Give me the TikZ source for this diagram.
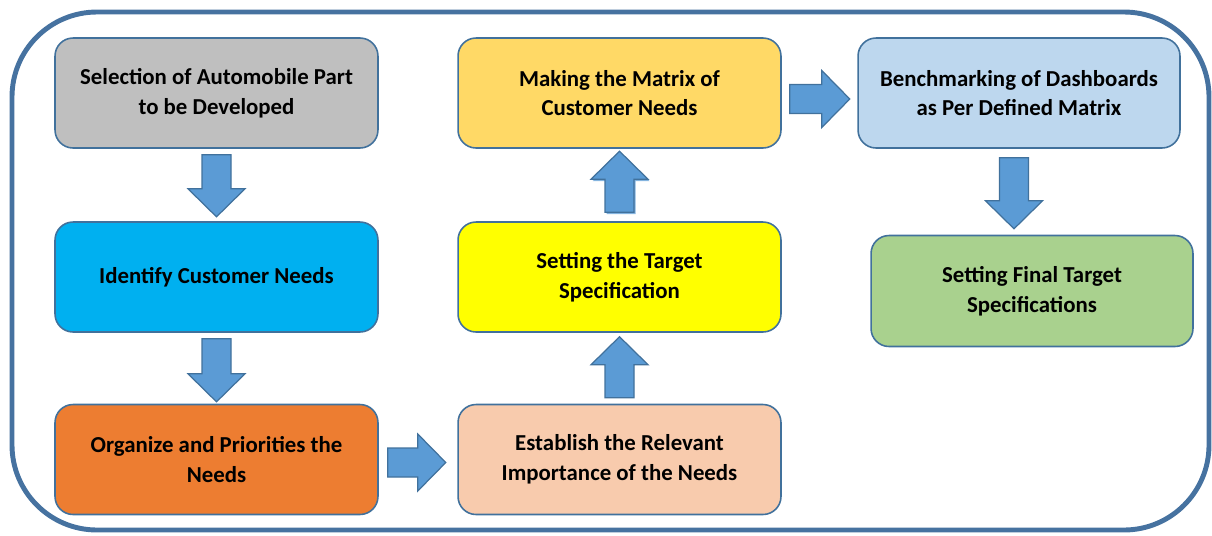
\documentclass[tikz,border=0pt]{standalone}
\usepackage{fontspec}
\setmainfont{Carlito}
\usetikzlibrary{positioning, calc}
\definecolor{flowedge}{HTML}{41719C}
\definecolor{flowframe}{HTML}{4672A0}
\definecolor{flowarrow}{HTML}{5B9BD5}
\definecolor{flowgray}{HTML}{BFBFBF}
\definecolor{flowcyan}{HTML}{00B0F0}
\definecolor{floworange}{HTML}{ED7D31}
\definecolor{flowpeach}{HTML}{F8CBAD}
\definecolor{flowyellow}{HTML}{FFFF00}
\definecolor{flowgold}{HTML}{FFD966}
\definecolor{flowsky}{HTML}{BDD7EE}
\definecolor{flowgreen}{HTML}{A9D18E}

% block arrow: start point, direction, length (in px units)
\newcommand{\blockarrow}[3]{%
  \begin{scope}[shift={#1}, rotate=#2]
    \draw[fatarrow] (0,-14.5) -- ({#3-28},-14.5) -- ({#3-28},-28.5) -- (#3,0)
      -- ({#3-28},28.5) -- ({#3-28},14.5) -- (0,14.5) -- cycle;
  \end{scope}}

\begin{document}
\begin{tikzpicture}[
  x=0.02cm, y=-0.02cm,
  stage/.style={draw=flowedge, line width=0.9pt, rounded corners=0.36cm, minimum width=6.46cm, minimum height=2.2cm, align=center, font=\fontsize{13}{17}\selectfont\bfseries, inner sep=1mm},
  fatarrow/.style={draw=flowedge, fill=flowarrow, line width=0.7pt, line join=miter},
  frame/.style={draw=flowframe, line width=2.8pt, rounded corners=1.7cm}
]
\useasboundingbox (0,0) rectangle (1212,535);
\draw[frame] (12,12) rectangle (1209,530);

\node[stage, fill=flowgray] (sel) at (216.5,93) {Selection of Automobile Part\\to be Developed};
\node[stage, fill=flowcyan] (icn) at (216.5,277) {Identify Customer Needs};
\node[stage, fill=floworange] (org) at (216.5,459.5) {Organize and Priorities the\\Needs};
\node[stage, fill=flowpeach] (est) at (619.5,459.5) {Establish the Relevant\\Importance of the Needs};
\node[stage, fill=flowyellow] (tgt) at (619.5,277) {Setting the Target\\Specification};
\node[stage, fill=flowgold] (mat) at (619.5,93) {Making the Matrix of\\Customer Needs};
\node[stage, fill=flowsky, minimum width=6.44cm] (ben) at (1019,93) {Benchmarking of Dashboards\\as Per Defined Matrix};
\node[stage, fill=flowgreen, minimum width=6.44cm, minimum height=2.22cm] (fin) at (1032,291) {Setting Final Target\\Specifications};

\blockarrow{($(sel.south)+(0,6)$)}{-90}{62}
\blockarrow{($(icn.south)+(0,6)$)}{-90}{63}
\blockarrow{($(org.east)+(9,3)$)}{0}{58}
\blockarrow{($(est.north)+(0,-6)$)}{90}{61}
% doubled look on the upper arrow
\begin{scope}[fatarrow/.append style={draw=none, fill=flowarrow!75}]
\blockarrow{($(tgt.north)+(1.5,-7)$)}{90}{61}
\end{scope}
\blockarrow{($(tgt.north)+(0,-9)$)}{90}{61}
\blockarrow{($(mat.east)+(8,6)$)}{0}{60}
\blockarrow{($(ben.south)+(-5,9)$)}{-90}{71}
\end{tikzpicture}
\end{document}
